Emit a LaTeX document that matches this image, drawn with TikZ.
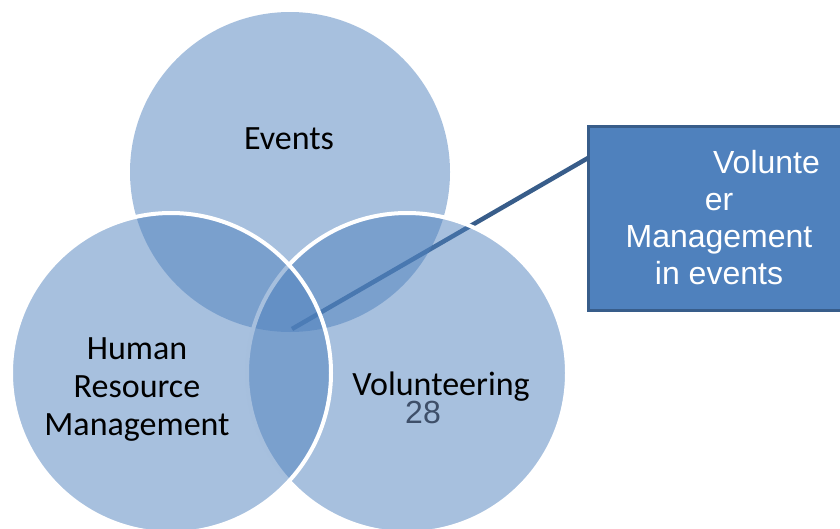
\documentclass[tikz,border=0pt]{standalone}
\usepackage{fontspec}
\setmainfont{Carlito}
\newfontfamily\arialfont{Liberation Sans}
\usepackage{tikz}
\definecolor{accent}{HTML}{4F81BD}
\definecolor{accentdark}{HTML}{385D8A}
\definecolor{numgray}{HTML}{3E4F69}
\tikzstyle{ring} = [circle, minimum size=320pt, inner sep=0pt, fill=accent, fill opacity=0.5]
\tikzstyle{rim} = [draw=white, line width=4pt]
\tikzstyle{venntext} = [font=\fontsize{34}{38}\selectfont, align=center, inner sep=0pt]
\tikzstyle{callout} = [fill=accent, draw=accentdark, line width=3pt, minimum width=262pt, minimum height=184pt, text=white, align=center, font=\arialfont\fontsize{32}{37}\selectfont]

\begin{document}
\begin{tikzpicture}[x=1pt, y=-1pt]
  \useasboundingbox (0,0) rectangle (840,528);
  \coordinate (hub) at (292,329);
  \coordinate (dock) at (588,158);
  \draw [accentdark, line width=4.5pt] (hub) -- (dock);
  \node (events) at (290,172) [ring] {};
  \node (vol) at (407,373) [ring, rim] {};
  \node (hrm) at (171,373) [ring, rim] {};
  \node (box) at (719,218) [callout] {\hspace*{95pt}Volunte\\er\\Management\\in events};
  \node (eventstxt) at (289,149) [venntext, anchor=base] {Events};
  \node (hrmtxt) at (137,390) [venntext] {Human\\Resource\\Management};
  \node (voltxt) at (441,395) [venntext, anchor=base] {Volunteering};
  \node (num) at (423,423) [anchor=base, inner sep=0pt, text=numgray, font=\arialfont\fontsize{32}{37}\selectfont] {28};
\end{tikzpicture}
\end{document}
